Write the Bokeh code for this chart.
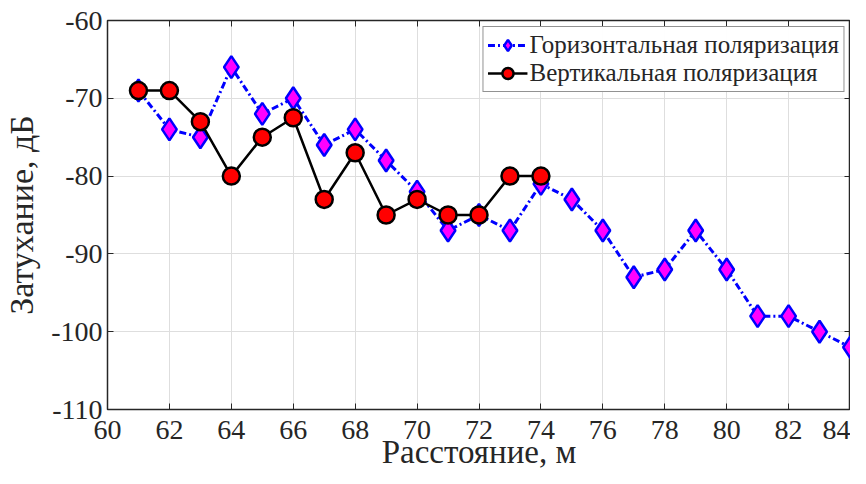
from bokeh.plotting import figure
from bokeh.models import Range1d, FixedTicker, LinearAxis, Legend, LegendItem, PrintfTickFormatter
from bokeh.embed import file_html
from bokeh.resources import INLINE

dist_h = [61, 62, 63, 64, 65, 66, 67, 68, 69, 70, 71, 72, 73, 74, 75, 76, 77, 78, 79, 80, 81, 82, 83, 84]
att_h = [-69, -74, -75, -66, -72, -70, -76, -74, -78, -82, -87, -85, -87, -81, -83, -87, -93, -92, -87, -92, -98, -98, -100, -102]
dist_v = [61, 62, 63, 64, 65, 66, 67, 68, 69, 70, 71, 72, 73, 74]
att_v = [-69, -69, -73, -80, -75, -72.5, -83, -77, -85, -83, -85, -85, -80, -80]
x_ticks = [60, 62, 64, 66, 68, 70, 72, 74, 76, 78, 80, 82, 84]
y_ticks = [-110, -100, -90, -80, -70, -60]
label_h = "Горизонтальная поляризация"
label_v = "Вертикальная поляризация"
x_title = "Расстояние, м"
y_title = "Затухание, дБ"

FONT = "Liberation Serif"
DARK = "#262626"

p = figure(width=850, height=476, output_backend="svg", toolbar_location=None,
           x_range=Range1d(60, 84), y_range=Range1d(-110, -60),
           min_border_left=100, min_border_right=0, min_border_top=20, min_border_bottom=67)
p.outline_line_color = DARK
p.outline_line_width = 1.5

for ax in (p.xaxis[0], p.yaxis[0]):
    ax.major_tick_in = 6
    ax.major_tick_out = 0
    ax.minor_tick_in = 0
    ax.minor_tick_out = 0
    ax.axis_line_color = DARK
    ax.major_tick_line_color = DARK
    ax.major_label_text_font = FONT
    ax.major_label_text_font_size = "28px"
    ax.major_label_text_color = DARK
    ax.axis_label_text_font = FONT
    ax.axis_label_text_font_style = "normal"
    ax.axis_label_text_color = DARK
    ax.formatter = PrintfTickFormatter(format="%d")

p.xaxis[0].axis_label_text_font_size = "33px"
p.yaxis[0].axis_label_text_font_size = "34px"
p.xaxis[0].ticker = FixedTicker(ticks=x_ticks)
p.yaxis[0].ticker = FixedTicker(ticks=y_ticks)
p.xaxis[0].axis_label = x_title
p.yaxis[0].axis_label = y_title
p.xaxis[0].major_label_standoff = 11
p.yaxis[0].major_label_standoff = 5
p.xaxis[0].axis_label_standoff = -8
p.yaxis[0].axis_label_standoff = 8

top = LinearAxis(ticker=FixedTicker(ticks=x_ticks), major_label_text_font_size="0px",
                 major_label_standoff=0,
                 major_tick_in=6, major_tick_out=0, minor_tick_in=0, minor_tick_out=0,
                 axis_line_color=DARK, major_tick_line_color=DARK)
right = LinearAxis(ticker=FixedTicker(ticks=y_ticks), major_label_text_font_size="0px",
                   major_label_standoff=0,
                   major_tick_in=6, major_tick_out=0, minor_tick_in=0, minor_tick_out=0,
                   axis_line_color=DARK, major_tick_line_color=DARK)
p.add_layout(top, "above")
p.add_layout(right, "right")

p.xgrid.ticker = FixedTicker(ticks=x_ticks)
p.ygrid.ticker = FixedTicker(ticks=y_ticks)
p.grid.grid_line_color = "#dedede"
p.grid.grid_line_width = 1

lh = p.line(dist_h, att_h, line_color="blue", line_width=3, line_dash="7 3 2 3")
sh = p.scatter(dist_h, att_h, marker="diamond", size=22, fill_color="#ff00ff",
               line_color="blue", line_width=2.5)
lv = p.line(dist_v, att_v, line_color="black", line_width=2.5)
sv = p.scatter(dist_v, att_v, marker="circle", size=17, fill_color="red",
               line_color="black", line_width=2.5)

legend = Legend(items=[LegendItem(label=label_h, renderers=[lh, sh]),
                       LegendItem(label=label_v, renderers=[lv, sv])],
                location="top_right",
                label_text_font=FONT, label_text_font_size="25px", label_text_color=DARK,
                border_line_color=DARK, border_line_width=1,
                glyph_width=40, glyph_height=28, label_standoff=2,
                spacing=0, padding=4, margin=6, label_height=28)
p.add_layout(legend)

open("out.html", "w").write(file_html(p, INLINE))
